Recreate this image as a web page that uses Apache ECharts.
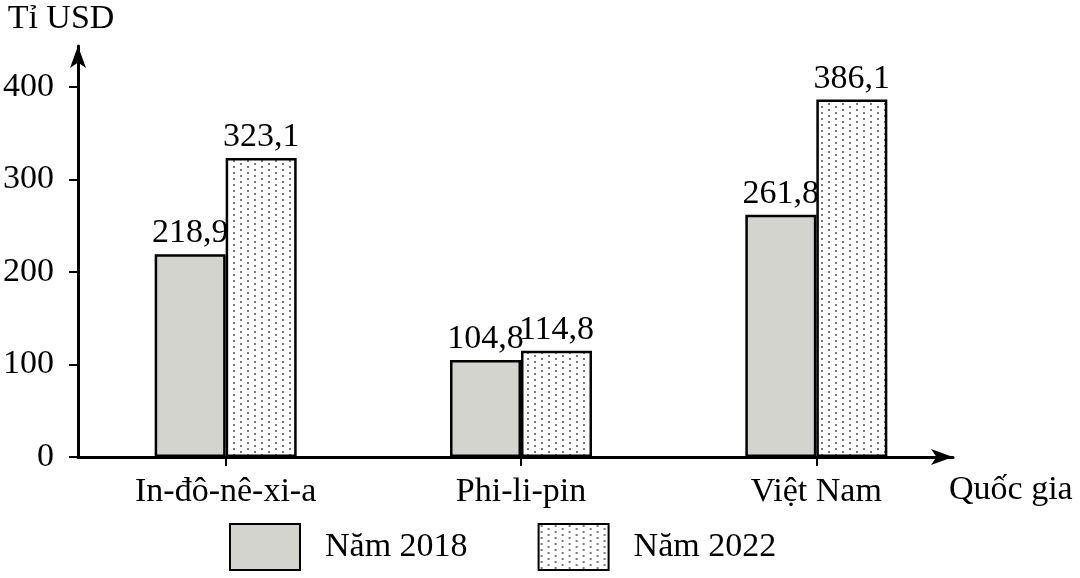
<!doctype html>
<html lang="vi">
<head>
<meta charset="utf-8">
<script src="https://cdn.jsdelivr.net/npm/echarts@6/dist/echarts.min.js"></script>
<style>
  html, body { margin: 0; padding: 0; background: #fff; }
  #chart { width: 1080px; height: 578px; }
</style>
</head>
<body>
<div id="chart"></div>
<script>
var countries = ['In-đô-nê-xi-a', 'Phi-li-pin', 'Việt Nam'];
var years = ['Năm 2018', 'Năm 2022'];
var values2018 = [218.9, 104.8, 261.8];
var values2022 = [323.1, 114.8, 386.1];
var yTicks = [0, 100, 200, 300, 400];

var FONT = '"Liberation Serif", "DejaVu Serif", serif';

// dotted texture for the 2022 bars
function dotPattern() {
  var c = document.createElement('canvas');
  c.width = 14; c.height = 12;
  var g = c.getContext('2d');
  g.fillStyle = '#fff';
  g.fillRect(0, 0, 14, 12);
  g.fillStyle = '#7a7a7a';
  [[2, 1], [2, 7], [9, 4], [9, 10]].forEach(function (p) {
    g.fillRect(p[0], p[1], 2, 2);
  });
  return c;
}

function comma(p) {
  return String(p.value).replace('.', ',');
}

var chart = echarts.init(document.getElementById('chart'));

var labelStyle = {
  show: true,
  position: 'top',
  distance: 4,
  color: '#000',
  fontFamily: FONT,
  fontSize: 34,
  formatter: comma
};

chart.setOption({
  animation: false,
  backgroundColor: '#fff',
  textStyle: { fontFamily: FONT, color: '#000' },
  grid: [
    { left: 78, right: 116, top: 46, bottom: 121 },
    { left: 78, right: 127, top: 46, bottom: 121 }
  ],
  legend: {
    left: 224,
    top: 518,
    itemWidth: 70,
    itemHeight: 46,
    itemGap: 70,
    icon: 'rect',
    selectedMode: false,
    textStyle: { fontFamily: FONT, fontSize: 34, color: '#000', padding: [0, 0, 0, 20] },
    data: years
  },
  xAxis: [
    {
      type: 'category',
      gridIndex: 0,
      data: countries,
      axisLine: { show: false },
      axisTick: { show: true, alignWithLabel: true, length: 9, lineStyle: { color: '#000', width: 2 } },
      axisLabel: { color: '#000', fontFamily: FONT, fontSize: 34, margin: 18 }
    },
    {
      type: 'value',
      gridIndex: 1,
      min: 0,
      max: 1,
      name: 'Quốc gia',
      nameLocation: 'end',
      nameGap: -4,
      nameTextStyle: { color: '#000', fontFamily: FONT, fontSize: 34, verticalAlign: 'top', padding: [16, 0, 0, 0] },
      axisLine: { show: true, symbol: ['none', 'arrow'], symbolSize: [12, 22], lineStyle: { color: '#000', width: 3 } },
      axisTick: { show: false },
      axisLabel: { show: false },
      splitLine: { show: false }
    }
  ],
  yAxis: [
    {
      type: 'value',
      gridIndex: 0,
      min: 0,
      max: 444,
      name: 'Tỉ USD',
      nameLocation: 'end',
      nameGap: 10,
      nameTextStyle: { color: '#000', fontFamily: FONT, fontSize: 34, padding: [0, 34, 0, 0] },
      axisLine: { show: true, symbol: ['none', 'arrow'], symbolSize: [12, 22], lineStyle: { color: '#000', width: 3 } },
      axisTick: { show: true, length: 9, customValues: yTicks, lineStyle: { color: '#000', width: 2 } },
      axisLabel: { color: '#000', fontFamily: FONT, fontSize: 34, margin: 24, customValues: yTicks },
      splitLine: { show: false }
    },
    {
      type: 'value',
      gridIndex: 1,
      min: 0,
      max: 1,
      show: false
    }
  ],
  series: [
    {
      name: years[0],
      type: 'bar',
      xAxisIndex: 0,
      yAxisIndex: 0,
      barWidth: 71,
      barGap: '0%',
      data: values2018,
      itemStyle: { color: '#d4d4cf', borderColor: '#000', borderWidth: 2.5 },
      label: labelStyle
    },
    {
      name: years[1],
      type: 'bar',
      xAxisIndex: 0,
      yAxisIndex: 0,
      barWidth: 71,
      barGap: '0%',
      data: values2022,
      itemStyle: { color: { image: dotPattern(), repeat: 'repeat' }, borderColor: '#000', borderWidth: 2.5 },
      label: labelStyle
    }
  ]
});
</script>
</body>
</html>
